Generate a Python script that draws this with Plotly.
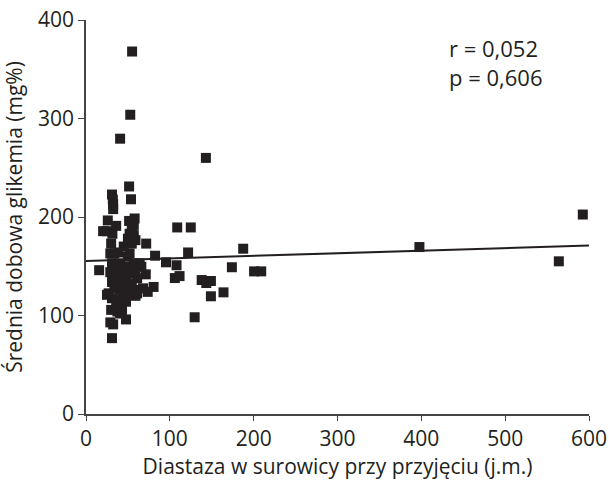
import plotly.graph_objects as go

diastaza = [55, 52.8, 40.7, 143, 51.4, 53.7, 592.6, 397.7, 564, 187.5, 174, 200.5, 209,
            164, 149, 129.6, 138, 143.5, 149, 121.8, 125, 108.8, 108, 106, 111.6, 95.4,
            82.4, 80.6, 73.6, 71.3, 71.8, 15.7, 20.4, 25, 26, 31, 32, 32.4, 32.4, 27, 25,
            29, 32.4, 31, 47.7, 37.5, 30,
            36, 31.5, 30, 33.8, 29, 38.4, 31, 36, 40.7, 29, 36, 43, 31, 38.4, 33.8, 40.7,
            31, 38.4, 36, 40.7, 45, 50, 52, 54.6, 57, 58, 51.4, 59, 54.6, 57, 50, 52,
            57, 64, 66, 59, 54.6, 61, 54.6, 57, 61, 68, 54.6, 59, 47.7, 45, 47.7, 45,
            43, 45.4, 50, 52]
glikemia = [368, 303.8, 279.5, 260, 231, 218, 202.5, 169.5, 155, 167.8, 149, 144.8, 144.8,
            123.5, 119.5, 98.2, 136, 133, 135, 164, 189.4, 189.4, 151, 138, 140, 154,
            160.7, 129, 124, 141.8, 173, 146, 185.6, 185.6, 196.5, 222.8, 217.7, 213, 208,
            122.5, 121, 93, 91, 77, 96, 104, 105.7,
            191, 183, 173, 163, 163, 164, 153, 149.5, 153, 144, 143, 146, 134, 136, 127.6,
            126, 117.5, 116, 109, 102, 170, 178, 183, 186.7, 192, 198.5, 196, 176.5, 173,
            181.6, 159.7, 163, 153, 153, 149.5, 143, 146, 137.7, 132.7, 126, 122.5,
            127.6, 121, 120, 139, 132.7, 114, 122.5, 105.7, 149.5, 122.5, 129]

trend_x = [0, 600]
trend_y = [155.3, 171]

x_ticks = [0, 100, 200, 300, 400, 500, 600]
y_ticks = [0, 100, 200, 300, 400]

fig = go.Figure()
fig.add_trace(go.Scatter(x=trend_x, y=trend_y, mode="lines",
                         line=dict(color="#231f20", width=2), showlegend=False))
fig.add_trace(go.Scatter(x=diastaza, y=glikemia, mode="markers",
                         marker=dict(symbol="square", size=10, color="#231f20",
                                     line=dict(width=0)),
                         showlegend=False))

font = "Open Sans, Noto Sans, DejaVu Sans, sans-serif"
fig.update_layout(
    width=609, height=488,
    margin=dict(l=86, r=19.5, t=19.5, b=74),
    plot_bgcolor="white", paper_bgcolor="white",
    font=dict(family=font, color="#231f20", size=21),
    xaxis=dict(range=[0, 600], tickvals=x_ticks, ticks="outside", ticklen=5,
               tickcolor="#444", showline=True, linecolor="#444", linewidth=1.5,
               showgrid=False, zeroline=False, automargin=False,
               tickfont=dict(size=21, family=font, color="#231f20"),
               title=dict(text="Diastaza w surowicy przy przyjęciu (j.m.)",
                          font=dict(size=21, family=font, color="#231f20"), standoff=0)),
    yaxis=dict(range=[0, 400], tickvals=y_ticks, ticks="outside", ticklen=6,
               tickcolor="#444", showline=True, linecolor="#444", linewidth=1.5,
               showgrid=False, zeroline=False, automargin=False,
               tickfont=dict(size=21, family=font, color="#231f20"),
               title=dict(text="Średnia dobowa glikemia (mg%)",
                          font=dict(size=21, family=font, color="#231f20"), standoff=12)),
    annotations=[dict(x=0.717, y=0.891, xref="paper", yref="paper", xanchor="left",
                      yanchor="middle", showarrow=False, align="left",
                      text="r = 0,052<br>p = 0,606",
                      font=dict(size=22, family=font, color="#231f20"))],
)

fig.write_html("out.html", config={"displayModeBar": False},
               post_script="document.body.style.margin='0px';")
